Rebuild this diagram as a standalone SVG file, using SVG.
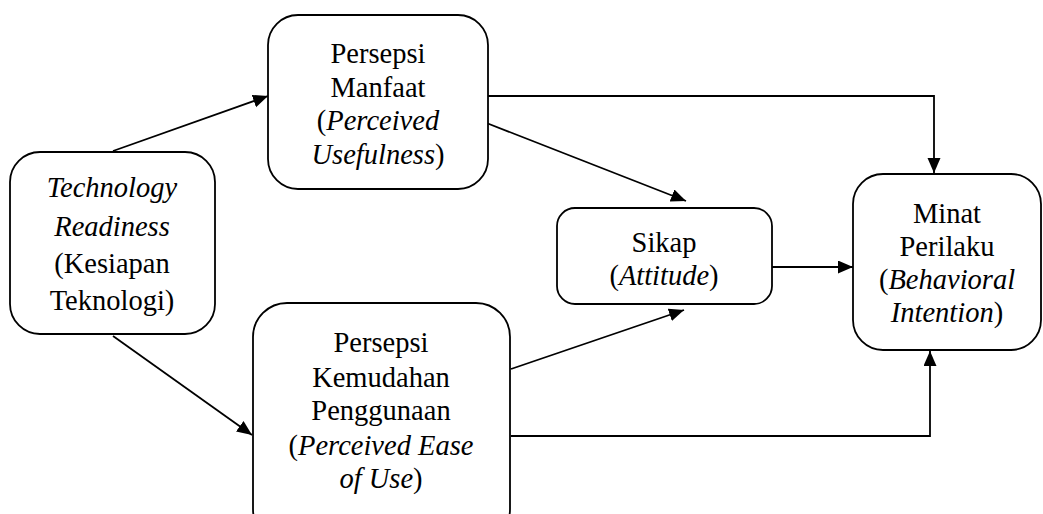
<svg xmlns="http://www.w3.org/2000/svg" width="1043" height="514" viewBox="0 0 1043 514">
<style>
.box{fill:#fff;stroke:#000;stroke-width:1.8}
.t{font-family:"Times New Roman",Times,"Liberation Serif",Tinos,"Noto Serif","DejaVu Serif",serif;font-size:28.5px;fill:#000;text-anchor:middle}
.i{font-style:italic}
.c{fill:none;stroke:#000;stroke-width:1.8}
</style>
<defs>
<marker id="ah" markerUnits="userSpaceOnUse" markerWidth="16" markerHeight="14" refX="15" refY="6.5" orient="auto">
<path d="M0,0 L15,6.5 L0,13 Z" fill="#000"/>
</marker>
<clipPath id="clip1"><rect x="10" y="152" width="205" height="166"/></clipPath>
</defs>
<rect width="1043" height="514" fill="#fff"/>
<g id="connectors">
<path class="c" d="M113,151 L268,96" marker-end="url(#ah)"/>
<path class="c" d="M113,336 L252,435" marker-end="url(#ah)"/>
<path class="c" d="M484,122 L686,201" marker-end="url(#ah)"/>
<path class="c" d="M511,369 L684,310" marker-end="url(#ah)"/>
<path class="c" d="M488,96 L934,96 L934,173" marker-end="url(#ah)"/>
<path class="c" d="M511,436 L930,436 L930,351" marker-end="url(#ah)"/>
<path class="c" d="M772,267 L853,267" marker-end="url(#ah)"/>
</g>
<g id="node-tr">
<rect class="box" x="10" y="152" width="205" height="182" rx="30"/>
<g clip-path="url(#clip1)">
<text class="t i" x="112" y="197">Technology</text>
<text class="t i" x="112" y="236">Readiness</text>
<text class="t" x="112" y="273">(Kesiapan</text>
<text class="t" x="112" y="310">Teknologi)</text>
</g>
</g>
<g id="node-pm">
<rect class="box" x="268" y="15" width="220" height="174" rx="30"/>
<text class="t" x="378" y="63">Persepsi</text>
<text class="t" x="378" y="97">Manfaat</text>
<text class="t" x="378" y="130">(<tspan class="i">Perceived</tspan></text>
<text class="t" x="378" y="164"><tspan class="i">Usefulness</tspan>)</text>
</g>
<g id="node-pk">
<rect class="box" x="253" y="303" width="257" height="240" rx="34"/>
<text class="t" x="381" y="352">Persepsi</text>
<text class="t" x="381" y="387">Kemudahan</text>
<text class="t" x="381" y="420">Penggunaan</text>
<text class="t" x="381" y="455">(<tspan class="i">Perceived Ease</tspan></text>
<text class="t" x="381" y="488"><tspan class="i">of Use</tspan>)</text>
</g>
<g id="node-sikap">
<rect class="box" x="557" y="208" width="215" height="96" rx="18"/>
<text class="t" x="664" y="252">Sikap</text>
<text class="t" x="664" y="285">(<tspan class="i">Attitude</tspan>)</text>
</g>
<g id="node-minat">
<rect class="box" x="853" y="174" width="188" height="176" rx="30"/>
<text class="t" x="947" y="223">Minat</text>
<text class="t" x="947" y="256">Perilaku</text>
<text class="t" x="947" y="289">(<tspan class="i">Behavioral</tspan></text>
<text class="t" x="947" y="322"><tspan class="i">Intention</tspan>)</text>
</g>
</svg>
